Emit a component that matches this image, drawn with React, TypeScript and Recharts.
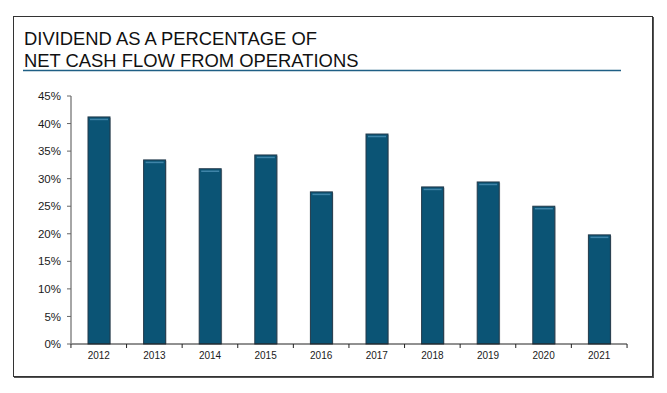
import React from "react";
import { BarChart, Bar, XAxis, YAxis } from "recharts";

const years = ["2012", "2013", "2014", "2015", "2016", "2017", "2018", "2019", "2020", "2021"];
const payoutPct = [41.2, 33.4, 31.8, 34.3, 27.6, 38.1, 28.5, 29.4, 25.0, 19.8];
const yTicks = [0, 5, 10, 15, 20, 25, 30, 35, 40, 45];
const titleLines = ["DIVIDEND AS A PERCENTAGE OF", "NET CASH FLOW FROM OPERATIONS"];

const data = years.map((year, i) => ({ year, value: payoutPct[i] }));

const FONT = "'Liberation Sans', Arial, Helvetica, sans-serif";
const BAR_FILL = "#0b5475";

function BarShape(props: any) {
  const { x, y, width, height } = props;
  if (!height || height <= 0) return null;
  return (
    <g>
      <rect x={x + 1} y={y + 1} width={width} height={height - 1} fill="#9aa3a8" opacity={0.6} />
      <rect x={x} y={y} width={width} height={height} fill={BAR_FILL} stroke="#23394a" strokeWidth={1} />
      <line x1={x + 2} x2={x + width - 2} y1={y + 2.5} y2={y + 2.5} stroke="#3f84a8" strokeWidth={1.5} />
    </g>
  );
}

function XTick(props: any) {
  const { x, y, payload, index, visibleTicksCount } = props;
  const band = 55.7;
  const count = visibleTicksCount ?? years.length;
  return (
    <g>
      <line x1={x - band / 2} x2={x - band / 2} y1={y - 8} y2={y - 4} stroke="#222" />
      {index === count - 1 && (
        <line x1={x + band / 2} x2={x + band / 2} y1={y - 8} y2={y - 4} stroke="#222" />
      )}
      <text x={x} y={y + 7} textAnchor="middle" fontSize={10} fontFamily={FONT} fill="#1a1a1a">
        {payload.value}
      </text>
    </g>
  );
}

export default function App() {
  return (
    <div
      style={{
        position: "fixed",
        left: 0,
        top: 0,
        width: 667,
        height: 393,
        background: "#fff",
        overflow: "hidden",
      }}
    >
      <div
        style={{
          position: "absolute",
          left: 13,
          top: 16,
          width: 638,
          height: 359,
          border: "1px solid #333",
          boxShadow: "1px 1px 0 #555",
        }}
      />
      <svg width={667} height={393} style={{ position: "absolute", left: 0, top: 0 }}>
        {titleLines.map((t, i) => (
          <text
            key={t}
            x={24}
            y={45 + i * 21.6}
            fontSize={18.4}
            fontFamily={FONT}
            fill="#111"
          >
            {t}
          </text>
        ))}
        <line x1={23} x2={621} y1={70.6} y2={70.6} stroke="#1f5f85" strokeWidth={1.5} />
      </svg>
      <div style={{ position: "absolute", left: 0, top: 0 }}>
        <BarChart
          width={667}
          height={393}
          data={data}
          margin={{ top: 96, right: 40, bottom: 29, left: 20 }}
          barCategoryGap={0}
        >
          <XAxis
            dataKey="year"
            height={20}
            axisLine={{ stroke: "#222", strokeWidth: 1 }}
            tickLine={false}
            tick={<XTick />}
            interval={0}
          />
          <YAxis
            width={51}
            domain={[0, 45]}
            ticks={yTicks}
            tickFormatter={(v) => `${v}%`}
            axisLine={{ stroke: "#888", strokeWidth: 1.5 }}
            tickLine={{ stroke: "#666" }}
            tickSize={4}
            tickMargin={6}
            tick={{ fill: "#1a1a1a", fontSize: 11.5, fontFamily: FONT }}
            interval={0}
          />
          <Bar dataKey="value" barSize={22} shape={<BarShape />} isAnimationActive={false} />
        </BarChart>
      </div>
    </div>
  );
}
